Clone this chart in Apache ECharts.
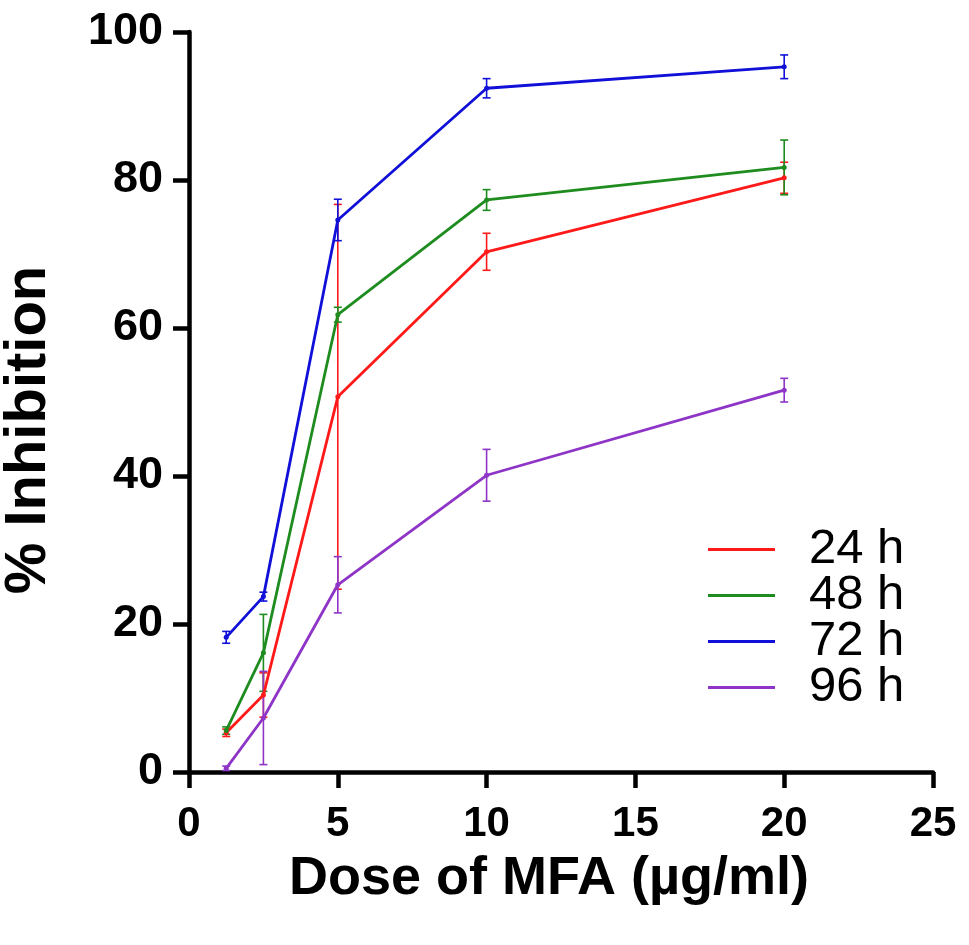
<!DOCTYPE html>
<html><head><meta charset="utf-8">
<script src="https://cdn.jsdelivr.net/npm/echarts@6/dist/echarts.min.js"></script>
<style>html,body{margin:0;padding:0;background:#fff}#c{width:969px;height:945px}</style>
</head><body><div id="c"></div>
<script>
var doses = [1.25, 2.5, 5, 10, 20];
var seriesNames = ['24 h', '48 h', '72 h', '96 h'];
var mean24 = [5.3, 10.4, 50.7, 70.3, 80.3];
var err24 = [0.5, 3.0, 26.0, 2.5, 2.1];
var mean48 = [5.6, 16.1, 61.8, 77.3, 81.7];
var err48 = [0.5, 5.2, 1.0, 1.4, 3.7];
var mean72 = [18.2, 23.7, 74.6, 92.4, 95.3];
var err72 = [0.8, 0.6, 2.8, 1.3, 1.6];
var mean96 = [0.5, 7.3, 25.3, 40.1, 51.6];
var err96 = [0.3, 6.3, 3.8, 3.5, 1.6];
var xTicks = [0, 5, 10, 15, 20, 25];
var yTicks = [0, 20, 40, 60, 80, 100];

var colors = ['#ff1a1a', '#1e8c1e', '#1010d8', '#8e35c8'];
var means = [mean24, mean48, mean72, mean96];
var errs = [err24, err48, err72, err96];
var FONT = 'Liberation Sans, Arial, sans-serif';

var chart = echarts.init(document.getElementById('c'));
var series = [];
means.forEach(function (m, i) {
  series.push({
    name: seriesNames[i], type: 'line',
    data: doses.map(function (d, j) { return [d, m[j]]; }),
    symbol: 'circle', symbolSize: 5,
    lineStyle: { width: 2.8, color: colors[i] },
    itemStyle: { color: colors[i] },
    z: 3
  });
  series.push({
    name: seriesNames[i] + ' err', type: 'custom',
    data: doses.map(function (d, j) { return [d, m[j] - errs[i][j], m[j] + errs[i][j]]; }),
    renderItem: function (params, api) {
      var x = api.value(0);
      var lo = api.coord([x, api.value(1)]);
      var hi = api.coord([x, api.value(2)]);
      var w = 4;
      var st = { stroke: colors[i], lineWidth: 1.6 };
      return { type: 'group', children: [
        { type: 'line', shape: { x1: lo[0], y1: lo[1], x2: hi[0], y2: hi[1] }, style: st },
        { type: 'line', shape: { x1: lo[0] - w, y1: lo[1], x2: lo[0] + w, y2: lo[1] }, style: st },
        { type: 'line', shape: { x1: hi[0] - w, y1: hi[1], x2: hi[0] + w, y2: hi[1] }, style: st }
      ]};
    },
    z: 2, silent: true
  });
});

chart.setOption({
  animation: false,
  backgroundColor: '#fff',
  grid: { left: 189, right: 36, top: 32, bottom: 173, containLabel: false, outerBoundsMode: 'none' },
  legend: {
    data: seriesNames,
    orient: 'vertical', left: 703, top: 520,
    icon: 'rect',
    itemWidth: 67, itemHeight: 3, itemGap: -3,
    textStyle: { fontSize: 49, color: '#000', fontFamily: FONT, padding: [0, 0, 0, 29] }
  },
  xAxis: {
    type: 'value', min: 0, max: 25, interval: 5,
    axisLine: { show: true, onZero: false, lineStyle: { color: '#000', width: 4.5 } },
    axisTick: { show: true, length: 16, lineStyle: { color: '#000', width: 4.5 } },
    axisLabel: { fontSize: 42, fontWeight: 'bold', color: '#000', margin: 31, fontFamily: FONT },
    splitLine: { show: false },
    name: 'Dose of MFA (µg/ml)', nameLocation: 'middle', nameGap: 80,
    nameTextStyle: { fontSize: 54, fontWeight: 'bold', color: '#000', fontFamily: FONT, padding: [0, 24, 0, 0] }
  },
  yAxis: {
    type: 'value', min: 0, max: 100, interval: 20,
    axisLine: { show: true, onZero: false, lineStyle: { color: '#000', width: 4.5 } },
    axisTick: { show: true, length: 16, lineStyle: { color: '#000', width: 4.5 } },
    axisLabel: { fontSize: 45, fontWeight: 'bold', color: '#000', margin: 26, fontFamily: FONT },
    splitLine: { show: false },
    name: '% Inhibition', nameLocation: 'middle', nameGap: 131,
    nameTextStyle: { fontSize: 58, fontWeight: 'bold', color: '#000', fontFamily: FONT, padding: [0, 56, 0, 0] }
  },
  series: series
});
</script></body></html>
